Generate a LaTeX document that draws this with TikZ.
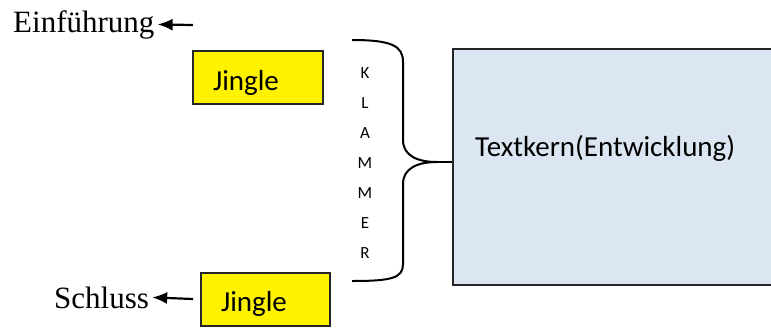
\documentclass[tikz,border=0pt]{standalone}
\usepackage{fontspec}
\setmainfont{Liberation Serif}
\newfontfamily\calibri{Carlito}
\usetikzlibrary{arrows.meta}
\definecolor{kernblau}{HTML}{DCE6F2}
\tikzset{
  pfeil/.style={line width=2.2pt,-{Latex[length=15pt,width=12pt]}},
  jingle/.style={draw=black!85,line width=2pt,fill=yellow,inner xsep=20pt,inner ysep=0pt,
    minimum height=53pt,text height=25pt,text depth=0pt,font=\calibri\fontsize{29}{34}\selectfont},
  titel/.style={inner sep=3pt,font=\fontsize{31}{36}\selectfont},
  klammerlinie/.style={line width=2pt}
}
\begin{document}
\begin{tikzpicture}[x=1pt,y=-1pt]
\useasboundingbox (0,0) rectangle (771,327);
\clip (0,0) rectangle (771,327);
% Textkern
\node[draw=black!85,line width=2pt,fill=kernblau,minimum width=335pt,minimum height=236pt] (kern) at (620.5,167) {};
\node[anchor=base west,inner sep=0pt,font=\calibri\fontsize{29}{34}\selectfont] (kerntext) at (475,156) {Textkern(Entwicklung)};
% Jingles
\node[jingle] (jin1) at (258,77.5) {\makebox[90pt][l]{Jingle}};
\node[jingle] (jin2) at (265.5,299) {\makebox[89pt][l]{Jingle}};
% Einfuehrung / Schluss
\node[titel,anchor=base west] (ein) at (10,32) {Einführung};
\node[titel,anchor=base west] (schluss) at (51,308) {Schluss};
\coordinate (einstart) at (193,25);
\draw[pfeil] (einstart) -- (ein.east);
\draw[pfeil] ([xshift=-7pt]jin2.west) -- (schluss.east);
% Klammer
\node[align=center,inner sep=0pt,font=\calibri\fontsize{17}{30}\selectfont] (klammer) at (365,163) {K\\L\\A\\M\\M\\E\\R};
\draw[klammerlinie] (352,40) .. controls (392,40) and (403,46) .. (403,62) -- (403,140)
  .. controls (403,156) and (418,162) .. (437,162) coordinate (spitze)
  .. controls (418,162) and (403,168) .. (403,184) -- (403,264)
  .. controls (403,278) and (392,281) .. (352,281);
\draw[klammerlinie] (spitze) -- (spitze -| kern.west);
\end{tikzpicture}
\end{document}
